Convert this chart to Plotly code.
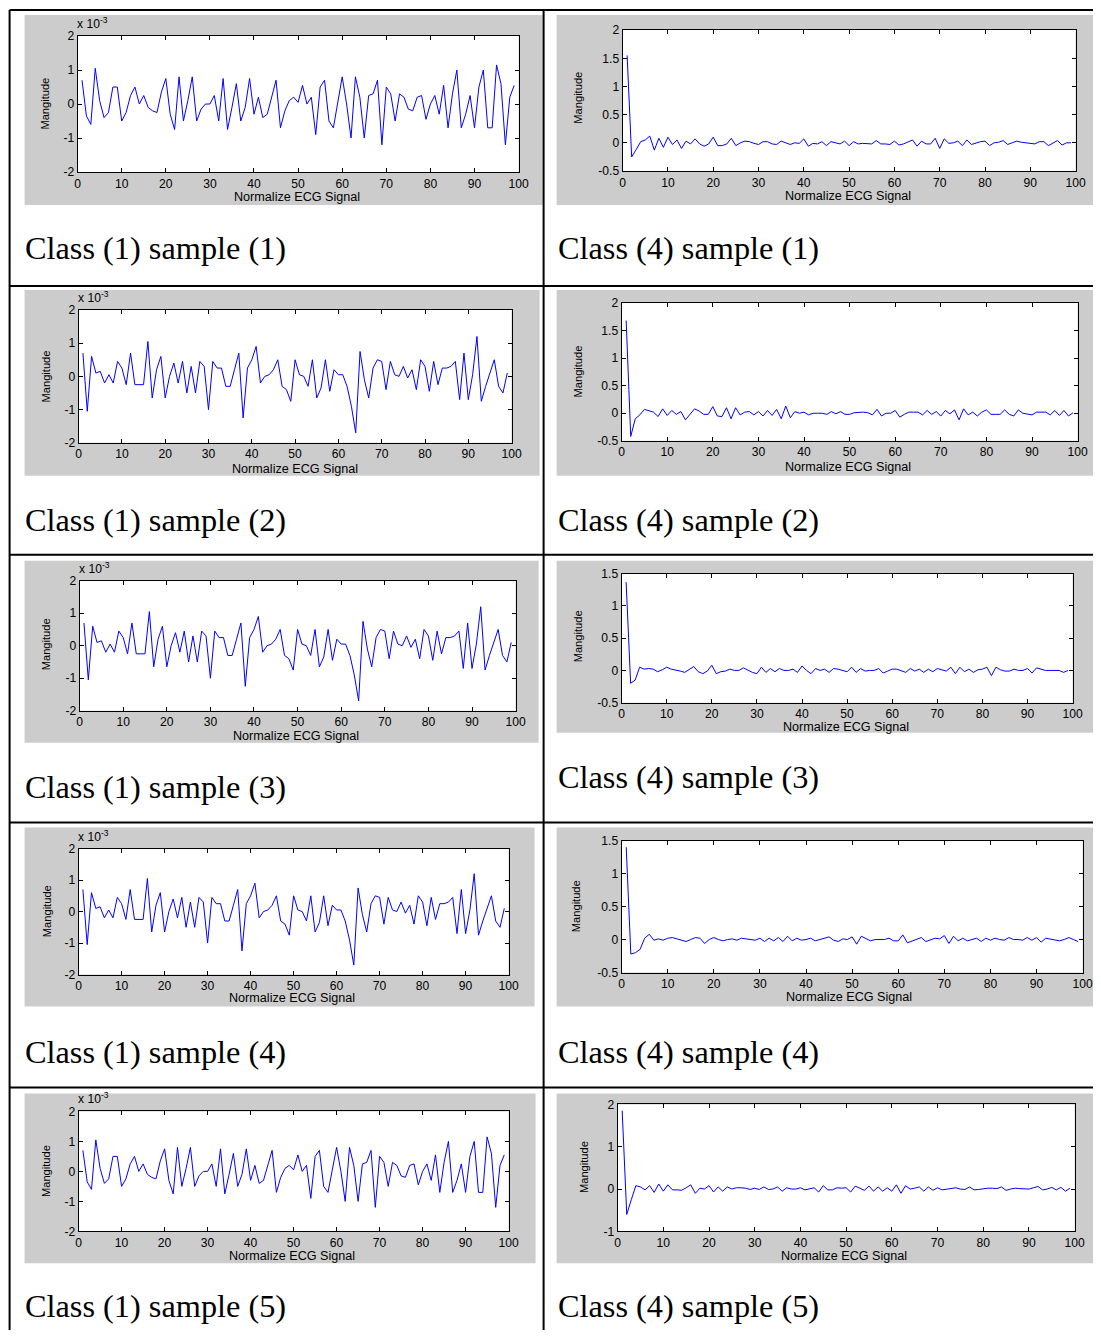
import numpy as np
import plotly.graph_objects as go

W, H = 1101, 1338          # browser window
OFF = 8                    # default body margin of the page
FW, FH = W - 2 * OFF, H - 2 * OFF
# empirical correction of the capture (measured from earlier renders)
AX, BX = 0.988, 3.5
AY, BY = 0.990, 7.0

# ---------------- data ----------------
X = list(range(1, 100))

# Class (1) signals, magnitude in units of 1e-3
CLASS1_SIG_A = [0.7, -0.35, -0.6, 1.05, 0.1, -0.4, -0.25, 0.5, 0.5, -0.5,
                -0.25, 0.25, 0.5, 0.0, 0.25, -0.1, -0.2, -0.25, 0.35, 0.75,
                -0.3, -0.75, 0.8, -0.5, 0.1, 0.8, -0.5, -0.15, 0.0, 0.0,
                0.25, -0.5, 0.75, -0.75, -0.1, 0.6, -0.5, -0.1, 0.75, -0.3,
                0.2, -0.4, -0.3, 0.2, 0.7, -0.7, -0.2, 0.1, 0.2, 0.05,
                0.55, 0.0, 0.2, -0.9, 0.5, 0.7, -0.5, -0.7, 0.0, 0.8,
                0.0, -1.0, 0.8, 0.2, -1.0, 0.25, 0.3, 0.7, -1.2, 0.5,
                0.3, -0.5, 0.3, 0.2, -0.15, -0.2, 0.2, 0.25, -0.45, 0.0,
                0.25, -0.3, 0.55, -0.7, 0.3, 1.0, -0.7, -0.3, 0.25, -0.7,
                0.5, 1.0, -0.7, -0.7, 1.15, 0.6, -1.2, 0.2, 0.55]

CLASS1_SIG_B = [0.7, -1.05, 0.6, 0.1, 0.15, -0.2, 0.05, -0.2, 0.45, 0.25,
                -0.25, 0.7, -0.25, -0.25, -0.25, 1.05, -0.65, 0.2, 0.6, -0.65,
                0.0, 0.4, -0.2, 0.45, -0.5, 0.3, -0.5, 0.45, 0.3, -1.0,
                0.45, 0.25, 0.25, -0.3, -0.3, 0.2, 0.7, -1.25, 0.25, 0.5,
                0.9, -0.2, 0.0, 0.05, 0.2, 0.5, -0.3, -0.4, -0.75, 0.5,
                0.05, 0.0, -0.3, 0.5, -0.65, -0.35, 0.5, -0.45, 0.2, 0.05,
                0.05, -0.3, -0.9, -1.7, 0.75, -0.1, -0.65, 0.25, 0.5, 0.45,
                -0.4, 0.45, 0.05, 0.0, 0.3, -0.05, 0.2, -0.4, 0.5, 0.3,
                -0.45, 0.45, -0.25, 0.25, 0.25, 0.3, 0.45, -0.7, 0.7, -0.7,
                0.05, 1.2, -0.75, -0.3, 0.1, 0.5, -0.3, -0.5, 0.1]

class1_s1 = CLASS1_SIG_A
class1_s2 = CLASS1_SIG_B
class1_s3 = CLASS1_SIG_B
class1_s4 = CLASS1_SIG_B
class1_s5 = CLASS1_SIG_A

class4_s1 = [1.55, -0.25, -0.12, 0.02, 0.05, 0.12, -0.13, 0.08, -0.08, 0.1,
             -0.03, 0.05, -0.1, 0.03, -0.02, 0.07, -0.02, -0.06, -0.02, 0.1,
             -0.05, -0.05, -0.02, 0.08, -0.05, 0.0, 0.03, 0.02, -0.01, -0.03,
             0.02, 0.02, -0.02, -0.03, 0.03, 0.0, -0.03, 0.0, -0.01, 0.07,
             -0.06, -0.01, -0.02, 0.02, -0.05, 0.02, 0.0, -0.02, 0.03, -0.05,
             0.02, -0.02, -0.01, -0.01, -0.02, 0.04, -0.02, -0.02, -0.03, 0.03,
             -0.04, -0.02, 0.01, 0.05, -0.06, 0.03, -0.02, -0.02, 0.08, -0.1,
             0.07, -0.01, 0.0, 0.03, -0.05, 0.05, -0.03, 0.0, 0.02, 0.03,
             -0.05, 0.0, 0.01, 0.04, -0.03, 0.0, 0.03, 0.01, 0.0, 0.0,
             -0.02, 0.02, 0.02, -0.05, 0.0, 0.04, -0.04, 0.0, 0.0]

class4_s2 = [1.68, -0.42, -0.1, -0.03, 0.07, 0.05, 0.02, -0.06, 0.08, -0.04,
             0.05, -0.02, 0.03, -0.12, -0.02, 0.08, 0.04, -0.02, -0.02, 0.12,
             -0.05, -0.06, 0.1, -0.1, 0.1, -0.03, 0.02, 0.03, -0.03, 0.03,
             -0.05, 0.05, -0.04, 0.07, -0.1, 0.13, -0.08, 0.03, 0.0, 0.02,
             -0.03, 0.0, 0.0, 0.0, -0.02, 0.03, -0.01, 0.03, -0.02, -0.02,
             0.01, 0.02, 0.02, 0.01, -0.03, 0.07, -0.05, 0.0, 0.0, 0.05,
             -0.07, -0.02, 0.02, 0.02, 0.02, -0.03, 0.05, -0.02, 0.03, -0.05,
             0.05, -0.01, 0.06, -0.12, 0.08, -0.03, 0.02, -0.05, 0.02, 0.06,
             -0.02, -0.02, -0.02, 0.06, -0.02, -0.05, 0.06, 0.0, -0.02, -0.03,
             0.02, 0.02, 0.02, -0.03, 0.05, -0.04, 0.05, -0.05, 0.01]

class4_s3 = [1.37, -0.2, -0.15, 0.05, 0.02, 0.03, 0.02, -0.02, 0.01, 0.05,
             0.02, 0.01, -0.01, -0.03, 0.02, 0.06, -0.02, -0.05, -0.01, 0.08,
             -0.05, -0.02, -0.01, 0.02, 0.0, 0.0, 0.04, 0.0, -0.03, -0.05,
             0.05, -0.03, 0.03, -0.02, 0.03, 0.0, 0.0, 0.02, -0.03, 0.07,
             0.0, -0.05, 0.03, 0.0, 0.02, -0.03, 0.03, 0.02, 0.0, -0.02,
             0.05, -0.03, 0.03, -0.01, 0.0, 0.0, 0.03, -0.04, -0.01, 0.02,
             0.02, 0.0, -0.03, 0.03, -0.01, 0.02, -0.03, 0.02, -0.02, 0.03,
             0.01, -0.01, 0.05, -0.05, 0.05, -0.02, 0.02, -0.03, 0.01, 0.02,
             0.05, -0.08, 0.05, 0.01, -0.01, -0.01, 0.02, 0.0, 0.0, 0.03,
             -0.04, 0.04, 0.02, 0.0, 0.0, 0.0, 0.0, -0.03, 0.0]

class4_s4 = [1.4, -0.22, -0.2, -0.15, 0.02, 0.08, -0.01, 0.01, -0.01, 0.02,
             0.03, 0.01, -0.01, -0.03, 0.0, 0.03, 0.02, -0.06, 0.0, 0.03,
             0.0, -0.02, 0.0, 0.01, -0.01, 0.02, 0.01, 0.0, -0.01, 0.02,
             -0.03, 0.02, -0.02, 0.03, -0.03, 0.05, -0.02, 0.02, -0.01, 0.0,
             0.02, -0.02, 0.0, 0.01, 0.04, -0.01, -0.03, 0.01, 0.0, 0.04,
             -0.07, 0.05, 0.02, -0.02, 0.0, 0.0, 0.0, 0.02, -0.02, -0.02,
             0.07, -0.05, -0.02, 0.01, 0.03, -0.03, 0.0, 0.02, 0.01, 0.06,
             -0.06, 0.05, -0.02, 0.02, -0.02, 0.0, 0.02, -0.03, 0.02, -0.01,
             0.02, 0.0, -0.01, 0.03, 0.0, 0.0, -0.01, 0.03, -0.01, 0.03,
             -0.04, 0.02, 0.01, 0.0, -0.02, 0.0, 0.03, 0.0, -0.03]

class4_s5 = [1.85, -0.6, -0.25, 0.08, 0.05, -0.02, 0.08, -0.08, 0.12, -0.05,
             0.1, -0.02, -0.02, -0.03, 0.03, 0.1, -0.1, 0.02, 0.0, 0.08,
             -0.07, 0.05, -0.05, 0.05, 0.0, 0.03, 0.03, 0.02, -0.01, 0.02,
             -0.01, 0.05, -0.01, 0.0, 0.05, -0.05, 0.03, 0.0, 0.0, 0.03,
             -0.02, 0.0, 0.03, -0.07, 0.08, -0.02, -0.02, 0.03, 0.02, 0.03,
             -0.07, 0.07, 0.02, -0.03, 0.07, -0.05, 0.05, -0.05, 0.03, -0.05,
             0.1, -0.1, 0.08, 0.0, 0.02, 0.05, -0.05, 0.05, -0.03, 0.03,
             -0.02, 0.0, 0.02, 0.03, 0.0, -0.01, 0.05, -0.02, -0.01, 0.01,
             0.02, 0.02, 0.01, 0.05, -0.03, 0.0, 0.02, 0.01, 0.01, 0.0,
             0.03, 0.06, -0.02, 0.0, 0.04, -0.02, 0.04, -0.05, 0.02]

CAPTIONS_LEFT = ["Class (1) sample (1)", "Class (1) sample (2)", "Class (1) sample (3)",
                 "Class (1) sample (4)", "Class (1) sample (5)"]
CAPTIONS_RIGHT = ["Class (4) sample (1)", "Class (4) sample (2)", "Class (4) sample (3)",
                  "Class (4) sample (4)", "Class (4) sample (5)"]

Y_LABEL = "Mangitude"
X_LABEL = "Normalize ECG Signal"

# ---------------- layout geometry (target pixels) ----------------
panels = [
    dict(y=class1_s1, scale=1e-3, yr=(-2, 2), dt=1, box=(78, 519, 36, 172), gray=(25, 543, 15, 205),
         yl=(45, 104), xl=(297, 197), cap=(25, 248, CAPTIONS_LEFT[0])),
    dict(y=class4_s1, scale=1, yr=(-0.5, 2), dt=0.5, box=(623, 1076, 30, 171), gray=(557, 1097, 15, 205),
         yl=(578, 98), xl=(848, 196), cap=(558, 248, CAPTIONS_RIGHT[0])),
    dict(y=class1_s2, scale=1e-3, yr=(-2, 2), dt=1, box=(79, 512, 310, 443), gray=(25, 540, 290, 476),
         yl=(46, 377), xl=(295, 469), cap=(25, 520, CAPTIONS_LEFT[1])),
    dict(y=class4_s2, scale=1, yr=(-0.5, 2), dt=0.5, box=(622, 1078, 303, 441), gray=(557, 1097, 290, 476),
         yl=(578, 372), xl=(848, 467), cap=(558, 520, CAPTIONS_RIGHT[1])),
    dict(y=class1_s3, scale=1e-3, yr=(-2, 2), dt=1, box=(80, 516, 581, 711), gray=(25, 539, 561, 743),
         yl=(46, 645), xl=(296, 736), cap=(25, 787, CAPTIONS_LEFT[2])),
    dict(y=class4_s3, scale=1, yr=(-0.5, 1.5), dt=0.5, box=(622, 1073, 574, 703), gray=(557, 1097, 561, 733),
         yl=(578, 637), xl=(846, 727), cap=(558, 777, CAPTIONS_RIGHT[2])),
    dict(y=class1_s4, scale=1e-3, yr=(-2, 2), dt=1, box=(79, 509, 849, 975), gray=(25, 535, 828, 1007),
         yl=(47, 912), xl=(292, 999), cap=(25, 1053, CAPTIONS_LEFT[3])),
    dict(y=class4_s4, scale=1, yr=(-0.5, 1.5), dt=0.5, box=(622, 1083, 841, 973), gray=(557, 1097, 828, 1007),
         yl=(576, 907), xl=(849, 998), cap=(558, 1053, CAPTIONS_RIGHT[3])),
    dict(y=class1_s5, scale=1e-3, yr=(-2, 2), dt=1, box=(79, 509, 1112, 1232), gray=(25, 536, 1094, 1264),
         yl=(47, 1172), xl=(292, 1257), cap=(25, 1307, CAPTIONS_LEFT[4])),
    dict(y=class4_s5, scale=1, yr=(-1, 2), dt=1, box=(618, 1075, 1105, 1232), gray=(557, 1100, 1094, 1264),
         yl=(585, 1168), xl=(844, 1257), cap=(558, 1307, CAPTIONS_RIGHT[4])),
]


def px(x):
    return ((x - BX) / AX - OFF) / FW


def py(y):
    return 1 - ((y - BY) / AY - OFF) / FH


FS = 1.01  # font scale compensation
fig = go.Figure()
shapes = []
annotations = []
SANS = "Liberation Sans, Arial, sans-serif"
tickfont = dict(family=SANS, size=12 * FS, color="#000000")

for i, p in enumerate(panels):
    k = "" if i == 0 else str(i + 1)
    x0, x1, y0, y1 = p["box"]
    g = p["gray"]
    shapes.append(dict(type="rect", xref="paper", yref="paper", x0=px(g[0]), x1=px(g[1]),
                       y0=py(g[3]), y1=py(g[2]), fillcolor="#CCCCCC", line=dict(width=0), layer="below"))
    shapes.append(dict(type="rect", xref="paper", yref="paper", x0=px(x0), x1=px(x1),
                       y0=py(y1), y1=py(y0), fillcolor="#FFFFFF", line=dict(width=0), layer="below"))

    yvals = np.array(p["y"]) * p["scale"]
    fig.add_trace(go.Scatter(x=X, y=yvals, mode="lines", line=dict(color="#0000FF", width=1),
                             xaxis="x" + k, yaxis="y" + k, showlegend=False, hoverinfo="skip"))

    lo, hi = p["yr"]
    tv = np.arange(lo, hi + 1e-9, p["dt"])
    ticktext = [f"{v:g}" for v in tv]
    tickvals = list(tv * p["scale"])

    fig.update_layout(**{
        "xaxis" + k: dict(domain=[px(x0), px(x1)], anchor="y" + k, range=[0, 100],
                          tickvals=list(range(0, 101, 10)), ticks="inside", ticklen=4,
                          showline=True, linecolor="#000000", linewidth=1, mirror="ticks",
                          showgrid=False, zeroline=False, tickfont=tickfont, tickcolor="#000000"),
        "yaxis" + k: dict(domain=[py(y1), py(y0)], anchor="x" + k,
                          range=[lo * p["scale"], hi * p["scale"]],
                          tickvals=tickvals, ticktext=ticktext, ticks="inside", ticklen=4,
                          showline=True, linecolor="#000000", linewidth=1, mirror="ticks",
                          showgrid=False, zeroline=False, tickfont=tickfont, tickcolor="#000000"),
    })

    annotations.append(dict(xref="paper", yref="paper", x=px(p["yl"][0]), y=py(p["yl"][1]),
                            text=Y_LABEL, textangle=-90, showarrow=False,
                            font=dict(family=SANS, size=11 * FS, color="#000"),
                            xanchor="center", yanchor="middle"))
    annotations.append(dict(xref="paper", yref="paper", x=px(p["xl"][0]), y=py(p["xl"][1]),
                            text=X_LABEL, showarrow=False,
                            font=dict(family=SANS, size=12.5 * FS, color="#000"),
                            xanchor="center", yanchor="middle"))
    if p["scale"] != 1:
        annotations.append(dict(xref="paper", yref="paper", x=px(x0 - 3), y=py(y0 - 3),
                                text="x 10<sup>-3</sup>", showarrow=False,
                                font=dict(family=SANS, size=12 * FS, color="#000"),
                                xanchor="left", yanchor="bottom"))
    cx, cy, ctext = p["cap"]
    annotations.append(dict(xref="paper", yref="paper", x=px(cx - 2), y=py(cy), text=ctext,
                            showarrow=False, xanchor="left", yanchor="middle",
                            font=dict(family="Liberation Serif, Times New Roman, serif", size=32 * FS,
                                      color="#000")))

# table lines
LINE = dict(color="#000000", width=2)
for yy in [10, 286, 555, 823, 1088]:
    shapes.append(dict(type="line", xref="paper", yref="paper", x0=px(10), x1=px(1101),
                       y0=py(yy), y1=py(yy), line=LINE, layer="above"))
for xx in [10, 544]:
    shapes.append(dict(type="line", xref="paper", yref="paper", x0=px(xx), x1=px(xx),
                       y0=py(10), y1=py(1338), line=LINE, layer="above"))

fig.update_layout(width=FW, height=FH, margin=dict(l=0, r=0, t=0, b=0),
                  paper_bgcolor="#FFFFFF", plot_bgcolor="rgba(0,0,0,0)",
                  shapes=shapes, annotations=annotations, showlegend=False)

fig.write_html("out.html")
